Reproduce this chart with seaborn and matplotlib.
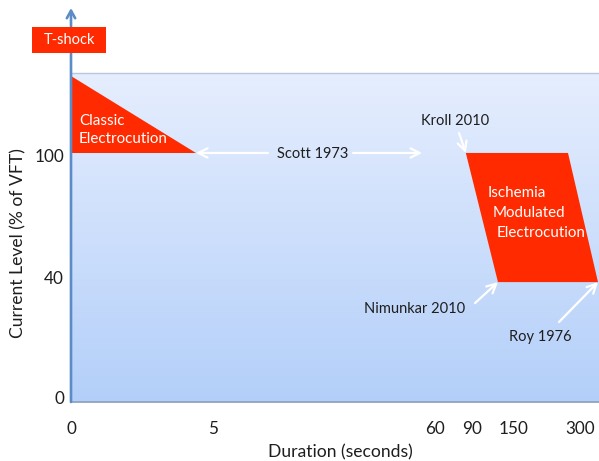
import numpy as np
import matplotlib
matplotlib.use("Agg")
import matplotlib.pyplot as plt
import seaborn as sns
from matplotlib.patches import Rectangle
from matplotlib.colors import LinearSegmentedColormap

# ---------------- data ----------------
duration_ticks = [0, 5, 60, 90, 150, 300]
duration_labels = ["0", "5", "60", "90", "150", "300"]
current_ticks = [0, 40, 100]
current_labels = ["0", "40", "100"]

classic_duration = [0, 0, 4.4]
classic_current = [139, 101, 101]

ischemia_duration = [85, 272.7, 340.9, 127.1]
ischemia_current = [101, 101, 38.3, 38.3]

# ---------------- layout (axis placement of tick values, px along axes) ----------------
x_tick_pos = [0, 142, 364, 401, 443, 509]
y_tick_pos = [5, 125, 247]
AX_W, AX_H = 528, 329


def piecewise(vals, pos):
    v = np.asarray(vals, float)
    p = np.asarray(pos, float)

    def _map(x, a, b):
        x = np.asarray(x, float)
        y = np.interp(x, a, b)
        lo_s = (b[1] - b[0]) / (a[1] - a[0])
        hi_s = (b[-1] - b[-2]) / (a[-1] - a[-2])
        y = np.where(x < a[0], b[0] + (x - a[0]) * lo_s, y)
        y = np.where(x > a[-1], b[-1] + (x - a[-1]) * hi_s, y)
        return y

    return (lambda x: _map(x, v, p)), (lambda x: _map(x, p, v))


fx, ix = piecewise(duration_ticks, x_tick_pos)
fy, iy = piecewise(current_ticks, y_tick_pos)

sns.set_theme(style="white")
plt.rcParams["font.family"] = ["Lato", "DejaVu Sans"]
TXT = "#1e1e1e"
RED = "#ff2a00"
FS = 10.5
FS_SHAPE = 10.9
FS_TICK = 12.3
FS_LABEL = 12.6

fig = plt.figure(figsize=(5.99, 4.61), dpi=100)
rect = [71 / 599, 59 / 461, AX_W / 599, AX_H / 461]

# gradient background
bg = fig.add_axes(rect, zorder=0)
cmap = LinearSegmentedColormap.from_list("bg", ["#b3cff9", "#e6eefe"])
bg.imshow(np.linspace(0, 1, 256).reshape(-1, 1), aspect="auto", cmap=cmap,
          extent=[0, 1, 0, 1], origin="lower")
bg.axis("off")

ax = fig.add_axes(rect, zorder=1)
ax.patch.set_alpha(0)
ax.set_xscale("function", functions=(fx, ix))
ax.set_yscale("function", functions=(fy, iy))
ax.set_xlim(0, float(ix(AX_W)))
ax.set_ylim(float(iy(0)), float(iy(AX_H)))

# shapes
ax.fill(classic_duration, classic_current, color=RED, lw=0, zorder=2)
ax.fill(ischemia_duration, ischemia_current, color=RED, lw=0, zorder=2)

ax.text(0.28, 112.3, "Classic\nElectrocution", color="white", fontsize=FS_SHAPE,
        ha="left", va="center", linespacing=1.35, zorder=3)
ax.text(112.9, 81.3, "Ischemia", color="white", fontsize=FS_SHAPE, ha="left", va="center", zorder=3)
ax.text(120, 71.5, "Modulated", color="white", fontsize=FS_SHAPE, ha="left", va="center", zorder=3)
ax.text(125.7, 61.7, "Electrocution", color="white", fontsize=FS_SHAPE, ha="left", va="center", zorder=3)

# annotations
arr = dict(arrowstyle="->,head_length=0.55,head_width=0.28", color="white",
           lw=1.6, shrinkA=0, shrinkB=0)
ax.text(29.8, 100.5, "Scott 1973", color=TXT, fontsize=FS, ha="center", va="center")
ax.annotate("", xy=(4.4, 101), xytext=(18.6, 101), arrowprops=arr)
ax.annotate("", xy=(56.8, 101), xytext=(39.7, 101), arrowprops=arr)

ax.text(76.2, 116.7, "Kroll 2010", color=TXT, fontsize=FS, ha="center", va="center")
ax.annotate("", xy=(85, 101), xytext=(79.5, 110.8), arrowprops=arr)

ax.text(55, 29.3, "Nimunkar 2010", color=TXT, fontsize=FS, ha="center", va="center")
ax.annotate("", xy=(127.1, 38.3), xytext=(94.3, 31.3), arrowprops=arr)

ax.text(209, 20, "Roy 1976", color=TXT, fontsize=FS, ha="center", va="center")
ax.annotate("", xy=(340.9, 38.3), xytext=(252.3, 25), arrowprops=arr, annotation_clip=False)

# ticks
ax.set_xticks(duration_ticks)
ax.set_xticklabels(duration_labels)
ax.set_yticks(current_ticks)
ax.set_yticklabels(current_labels)
ax.xaxis.set_minor_locator(matplotlib.ticker.NullLocator())
ax.yaxis.set_minor_locator(matplotlib.ticker.NullLocator())
ax.tick_params(axis="x", length=0, pad=14, labelsize=FS_TICK, labelcolor=TXT)
ax.tick_params(axis="y", length=0, pad=5, labelsize=FS_TICK, labelcolor=TXT)

ax.set_xlabel("Duration (seconds)", fontsize=FS_LABEL, color=TXT)
ax.set_ylabel("Current Level (% of VFT)", fontsize=FS_LABEL, color=TXT)
ax.xaxis.label.set(va="center", ha="center")
ax.yaxis.label.set(va="center", ha="center")
ax.xaxis.set_label_coords((340 - 71) / AX_W, (402 - 452) / AX_H)
ax.yaxis.set_label_coords((18 - 71) / AX_W, (402 - 243) / AX_H)

# spines
sns.despine(ax=ax, left=True, right=True, top=False, bottom=False)
ax.spines["top"].set_color("#b7c7df")
ax.spines["top"].set_linewidth(1.0)
ax.spines["bottom"].set_color("#8fa3bf")
ax.spines["bottom"].set_linewidth(1.3)

# y axis arrow
ax.annotate("", xy=(0, (402 - 8) / AX_H), xytext=(0, 0), xycoords="axes fraction",
            textcoords="axes fraction", annotation_clip=False,
            arrowprops=dict(arrowstyle="->,head_length=0.45,head_width=0.25",
                            color="#5b8cc8", lw=1.9, shrinkA=0, shrinkB=0), zorder=3)

# T-shock box
ax.add_patch(Rectangle(((32 - 71) / AX_W, (402 - 53) / AX_H), 74 / AX_W, 26 / AX_H,
                       transform=ax.transAxes, facecolor=RED, edgecolor="none",
                       clip_on=False, zorder=4))
ax.text((69 - 71) / AX_W, (402 - 40) / AX_H, "T-shock", transform=ax.transAxes,
        color="white", fontsize=FS, ha="center", va="center", zorder=6, clip_on=False)

fig.savefig("out.png", dpi=100, facecolor="white")
